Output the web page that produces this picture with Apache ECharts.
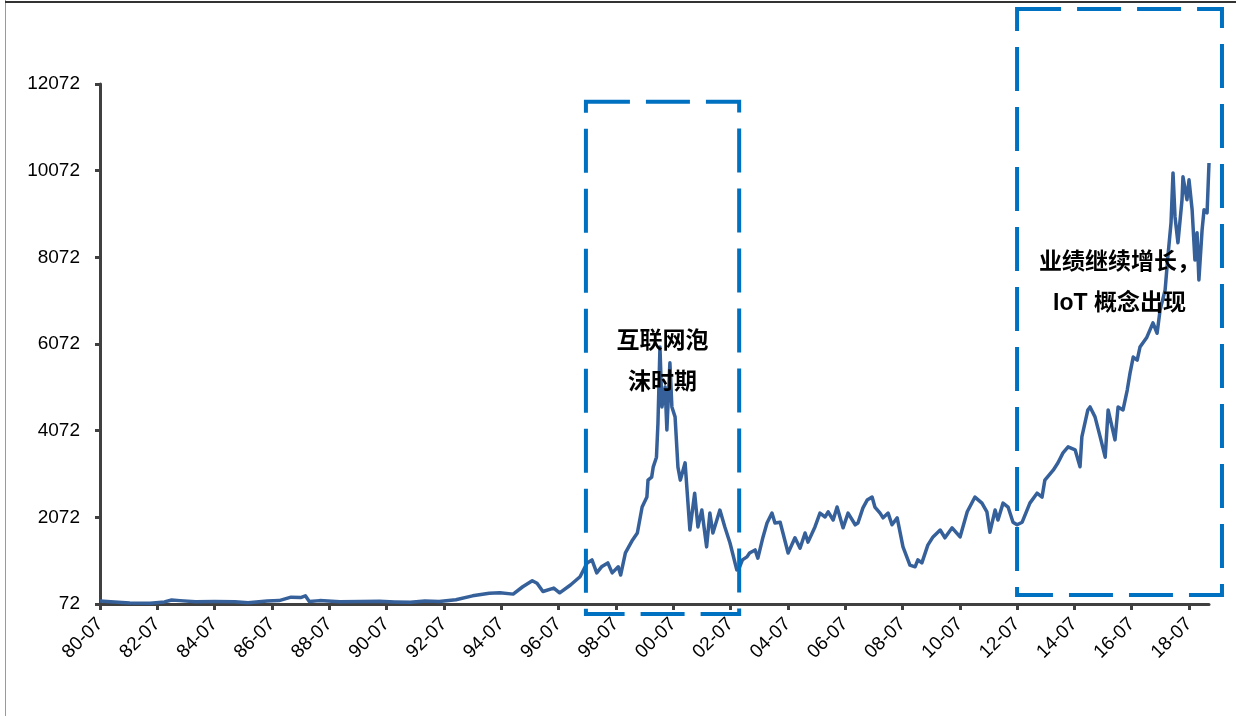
<!DOCTYPE html>
<html>
<head>
<meta charset="utf-8">
<script src="https://cdn.jsdelivr.net/npm/echarts@6/dist/echarts.min.js"></script>
<style>
  html, body { margin: 0; padding: 0; background: #ffffff; }
  #chart { width: 1240px; height: 716px; }
</style>
</head>
<body>
<div id="chart"></div>
<script>
// Tick labels
const xTickLabels = ['80-07', '82-07', '84-07', '86-07', '88-07', '90-07', '92-07', '94-07', '96-07', '98-07',
                     '00-07', '02-07', '04-07', '06-07', '08-07', '10-07', '12-07', '14-07', '16-07', '18-07'];
const yTickLabels = [72, 2072, 4072, 6072, 8072, 10072, 12072];

// Index level over time
const dates = [
  '1980-07-01', '1981-01-01', '1981-07-15', '1982-04-01', '1982-10-01', '1983-01-01', '1983-04-15', '1983-11-01',
  '1984-07-01', '1985-03-15', '1985-09-01', '1986-05-01', '1986-10-01', '1987-03-01', '1987-07-01', '1987-09-01',
  '1987-10-20', '1988-03-01', '1988-11-15', '1989-08-01', '1990-04-01', '1990-10-15', '1991-05-01', '1991-11-01',
  '1992-05-01', '1992-12-01', '1993-07-01', '1994-02-01', '1994-06-15', '1994-12-01', '1995-04-01', '1995-08-01',
  '1995-10-01', '1995-12-15', '1996-05-01', '1996-07-15', '1996-12-01', '1997-04-01', '1997-07-01', '1997-09-01',
  '1997-11-01', '1998-01-01', '1998-03-20', '1998-05-15', '1998-08-01', '1998-09-01', '1998-11-01', '1999-02-01',
  '1999-04-01', '1999-06-01', '1999-08-01', '1999-08-15', '1999-10-01', '1999-10-20', '1999-12-01', '1999-12-20',
  '2000-01-15', '2000-02-10', '2000-03-20', '2000-04-12', '2000-05-20', '2000-06-15', '2000-07-25', '2000-09-01',
  '2000-10-01', '2000-12-01', '2001-02-01', '2001-04-01', '2001-05-12', '2001-07-01', '2001-09-01', '2001-10-12',
  '2001-11-20', '2002-02-18', '2002-04-20', '2002-06-25', '2002-09-20', '2002-10-20', '2002-12-01', '2003-01-28',
  '2003-03-01', '2003-05-10', '2003-06-15', '2003-08-20', '2003-10-10', '2003-12-12', '2004-01-20', '2004-03-25',
  '2004-07-05', '2004-10-01', '2004-12-05', '2005-02-08', '2005-03-15', '2005-06-12', '2005-08-15', '2005-10-20',
  '2005-11-28', '2006-02-01', '2006-03-20', '2006-06-05', '2006-08-08', '2006-11-08', '2006-12-12', '2007-02-15',
  '2007-04-08', '2007-06-10', '2007-07-15', '2007-09-20', '2007-10-28', '2008-01-01', '2008-02-20', '2008-04-25',
  '2008-07-08', '2008-10-05', '2008-12-10', '2009-01-15', '2009-03-05', '2009-05-20', '2009-07-25', '2009-10-25',
  '2009-12-25', '2010-03-25', '2010-07-05', '2010-10-05', '2011-01-12', '2011-04-10', '2011-06-12', '2011-07-20',
  '2011-09-25', '2011-11-01', '2012-01-05', '2012-03-08', '2012-05-10', '2012-07-01', '2012-09-05', '2012-12-12',
  '2013-03-12', '2013-05-15', '2013-06-20', '2013-10-05', '2013-12-05', '2014-02-08', '2014-04-12', '2014-07-10',
  '2014-09-12', '2014-10-05', '2014-12-20', '2015-01-18', '2015-03-20', '2015-05-25', '2015-07-28', '2015-09-05',
  '2015-12-01', '2016-01-10', '2016-03-12', '2016-05-05', '2016-06-10', '2016-07-20', '2016-09-10', '2016-10-15',
  '2017-01-12', '2017-03-28', '2017-05-20', '2017-06-28', '2017-09-01', '2017-10-05', '2017-11-15', '2017-12-10',
  '2018-01-05', '2018-02-12', '2018-04-03', '2018-04-15', '2018-06-05', '2018-07-01', '2018-08-10', '2018-09-15',
  '2018-10-12', '2018-11-05', '2018-12-15', '2019-01-10', '2019-02-18', '2019-03-12'
];
const values = [
  140, 120, 95, 90, 120, 165, 150, 125,
  130, 125, 100, 140, 150, 230, 220, 260,
  130, 150, 125, 130, 135, 120, 110, 140,
  130, 170, 260, 320, 330, 300, 470, 610,
  550, 360, 440, 330, 510, 700, 1020, 1090,
  790, 930, 1020, 790, 930, 740, 1250, 1550,
  1710, 2310, 2540, 2930, 3000, 3230, 3460, 4250,
  6000, 4620, 5080, 4090, 5640, 4620, 4390, 3230,
  2930, 3330, 1780, 2630, 1850, 2240, 1390, 2170,
  1710, 2240, 1850, 1480, 860, 900, 1090, 1160,
  1250, 1320, 1130, 1620, 1940, 2170, 1940, 1960,
  1250, 1600, 1360, 1710, 1500, 1850, 2170, 2080,
  2200, 2010, 2310, 1830, 2170, 1900, 1940, 2290,
  2470, 2540, 2310, 2170, 2060, 2170, 1900, 2060,
  1390, 970, 930, 1090, 1020, 1430, 1620, 1780,
  1600, 1830, 1620, 2200, 2540, 2400, 2200, 1730,
  2240, 2010, 2400, 2310, 1960, 1900, 1960, 2400,
  2630, 2540, 2930, 3160, 3330, 3560, 3700, 3630,
  3240, 3930, 4550, 4620, 4390, 3930, 3460, 4550,
  3860, 4620, 4550, 5010, 5400, 5770, 5700, 6000,
  6230, 6560, 6320, 6860, 7320, 8080, 8870, 10020,
  9010, 8410, 9400, 9930, 9400, 9860, 9170, 8010,
  8640, 7550, 8700, 9170, 9100, 10250
];

// Highlighted periods (date span, value span) and their captions
const periodStart = ['1997-06-15', '2012-07-01'];
const periodEnd = ['2002-10-20', '2019-08-25'];
const periodTop = [11660, 13805];
const periodBottom = [-160, 280];
const periodCaptionLevel = [5660, 7480];
const periodCaption = ['互联网泡\n沫时期', '业绩继续增长，\nIoT 概念出现'];

const xMin = '1980-07-01';
const xMax = '2019-03-12';

// The horizontal axis counts months from July 1980
const BASE_YEAR = 1980, BASE_MONTH = 7;
function toMonths(s) {
  const p = s.split('-').map(Number);
  return (p[0] - BASE_YEAR) * 12 + (p[1] - BASE_MONTH) + ((p[2] || 1) - 1) / 30;
}
function labelToMonths(lbl) {
  const yy = Number(lbl.slice(0, 2));
  const year = yy >= 50 ? 1900 + yy : 2000 + yy;
  return (year - BASE_YEAR) * 12 + (Number(lbl.slice(3)) - BASE_MONTH);
}

const xTicks = xTickLabels.map(labelToMonths);
const axisColor = '#404040';
const labelFont = '"Liberation Sans", Arial, sans-serif';

const chart = echarts.init(document.getElementById('chart'), null, { renderer: 'canvas' });

chart.setOption({
  animation: false,
  backgroundColor: '#ffffff',
  grid: { left: 100, right: 31, top: 84, bottom: 112 },
  xAxis: {
    type: 'value',
    min: toMonths(xMin),
    max: toMonths(xMax),
    axisLine: { show: true, onZero: false, lineStyle: { color: axisColor, width: 3 } },
    axisTick: { show: true, customValues: xTicks, length: 6, lineStyle: { color: axisColor, width: 3 } },
    axisLabel: {
      customValues: xTicks,
      rotate: 45,
      margin: 17,
      fontSize: 19,
      color: '#000000',
      fontFamily: labelFont,
      formatter: (v) => {
        const i = xTicks.findIndex((t) => Math.abs(t - v) < 1e-6);
        return i >= 0 ? xTickLabels[i] : '';
      }
    },
    splitLine: { show: false }
  },
  yAxis: {
    type: 'value',
    min: yTickLabels[0],
    max: yTickLabels[yTickLabels.length - 1],
    axisLine: { show: true, onZero: false, lineStyle: { color: axisColor, width: 3 } },
    axisTick: { show: true, customValues: yTickLabels, length: 5, lineStyle: { color: axisColor, width: 3 } },
    axisLabel: {
      customValues: yTickLabels,
      margin: 20,
      fontSize: 19,
      color: '#000000',
      fontFamily: labelFont,
      formatter: (v) => String(v)
    },
    splitLine: { show: false }
  },
  series: [{
    type: 'line',
    data: dates.map((d, i) => [toMonths(d), values[i]]),
    showSymbol: false,
    symbol: 'none',
    lineStyle: { color: '#35609A', width: 3.5, join: 'round' },
    z: 3
  }]
});

// Dashed boxes and captions placed through the chart's own coordinate conversion
const graphics = [
  { type: 'line', silent: true, shape: { x1: 5.5, y1: 0, x2: 5.5, y2: 716 }, style: { stroke: '#9a9a9a', lineWidth: 1 } },
  { type: 'line', silent: true, shape: { x1: 5, y1: 2, x2: 1236, y2: 2 }, style: { stroke: '#333333', lineWidth: 2 } }
];
for (let i = 0; i < periodStart.length; i++) {
  const p0 = chart.convertToPixel({ gridIndex: 0 }, [toMonths(periodStart[i]), periodTop[i]]);
  const p1 = chart.convertToPixel({ gridIndex: 0 }, [toMonths(periodEnd[i]), periodBottom[i]]);
  const pc = chart.convertToPixel({ gridIndex: 0 }, [toMonths(periodStart[i]), periodCaptionLevel[i]]);
  graphics.push({
    type: 'rect',
    silent: true,
    z: 10,
    shape: { x: p0[0], y: p0[1], width: p1[0] - p0[0], height: p1[1] - p0[1] },
    style: { fill: 'none', stroke: '#0070C0', lineWidth: 4, lineDash: [44, 16] }
  });
  graphics.push({
    type: 'text',
    silent: true,
    z: 11,
    style: {
      text: periodCaption[i],
      x: (p0[0] + p1[0]) / 2,
      y: pc[1],
      align: 'center',
      verticalAlign: 'middle',
      lineHeight: 41,
      font: 'bold 23px "Liberation Sans", "Noto Sans CJK SC", sans-serif',
      fill: '#000000'
    }
  });
}
chart.setOption({ graphic: graphics });
</script>
</body>
</html>
